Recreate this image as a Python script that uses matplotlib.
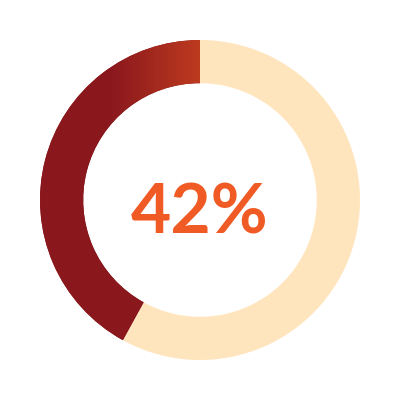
import numpy as np
import matplotlib.pyplot as plt
from matplotlib.colors import LinearSegmentedColormap

# donut values
values = [42, 58]
label = "42%"

fig = plt.figure(figsize=(4, 4), dpi=100)
ax = fig.add_axes([0, 0, 1, 1])
ax.set_xlim(-1.25, 1.25)
ax.set_ylim(-1.25, 1.25)
ax.set_aspect('equal')
ax.axis('off')

wedges, _ = ax.pie(values, startangle=90, counterclock=True, radius=1.0,
                   colors=['#8a181d', '#ffe5bd'],
                   wedgeprops=dict(width=0.27, linewidth=0))

# gradient on the filled part, dark on the left, orange near the top
cmap = LinearSegmentedColormap.from_list('g', ['#8a181d', '#bd3a1f'])
xx, yy = np.meshgrid(np.linspace(-1, 1, 400), np.linspace(1, -1, 400))
grad = np.clip((xx + 0.56) / 0.56, 0, 1) * (yy > 0)
img = ax.imshow(grad, cmap=cmap, extent=[-1, 1, -1, 1],
                aspect='auto', vmin=0, vmax=1, zorder=3)
img.set_clip_path(wedges[0])

ax.text(0, -0.21, label, ha='center', va='baseline', fontsize=50,
        fontweight='bold', family=['Lato', 'DejaVu Sans'], color='#f05a24', zorder=4)

fig.savefig('out.png', dpi=100)
